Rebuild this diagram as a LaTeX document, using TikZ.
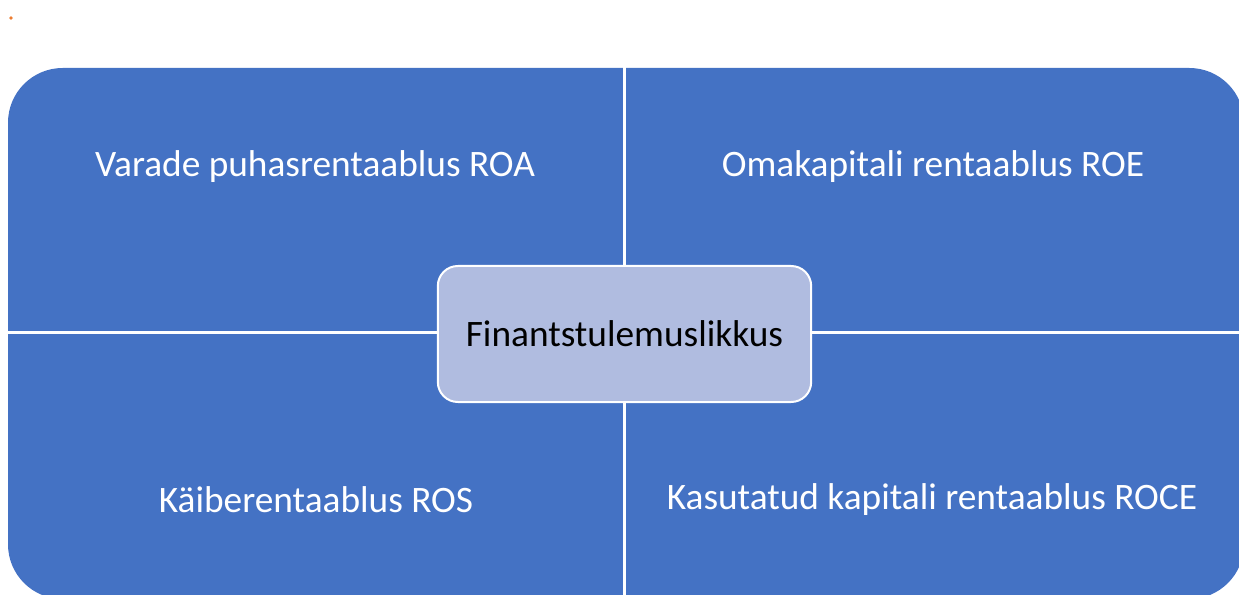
\documentclass[tikz,border=0pt]{standalone}
\usepackage{fontspec}
\setmainfont{Carlito}
\definecolor{kvblue}{RGB}{68,114,196}
\definecolor{kvlight}{RGB}{176,188,224}
\definecolor{kvdot}{RGB}{237,125,49}

\begin{document}
\begin{tikzpicture}[x=0.75pt,y=-0.75pt,
  quadtext/.style={text=white,font=\fontsize{28}{33}\selectfont},
  hubbox/.style={rounded corners=15pt,fill=kvlight,draw=white,line width=1.5pt,
    minimum width=280pt,minimum height=102pt,font=\fontsize{28}{33}\selectfont}]
\useasboundingbox (0,0) rectangle (1239,595);
% ---------- Punkt ----------
\fill[kvdot] (11,18) circle[radius=1.4pt];
% ---------- vier Felder ----------
\fill[kvblue,rounded corners=41pt] (8,68) rectangle (1244,599);
\draw[white,line width=2.5pt] (624.5,60) -- (624.5,605);
\draw[white,line width=2.5pt] (0,332.5) -- (1250,332.5);
% ---------- Texte ----------
\node[quadtext] (roa) at (315,167) {Varade puhasrentaablus ROA};
\node[quadtext] (roe) at (933,167) {Omakapitali rentaablus ROE};
\node[quadtext] (ros) at (316,500) {Käiberentaablus ROS};
\node[quadtext] (roce) at (932,500) {Kasutatud kapitali rentaablus ROCE};
% ---------- Mitte ----------
\node[hubbox] (hub) at (624.5,334) {Finantstulemuslikkus};
\end{tikzpicture}
\end{document}
